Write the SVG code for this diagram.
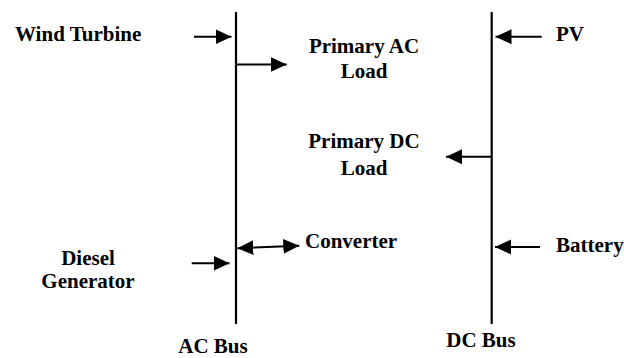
<svg xmlns="http://www.w3.org/2000/svg" width="624" height="358" viewBox="0 0 624 358">
<style>
.t{font-family:'Liberation Serif','Times New Roman',Times,serif;font-weight:700;font-size:21px;fill:#000}
.bus{stroke:#000;stroke-width:2.2;fill:none}
.arr{stroke:#000;stroke-width:2;fill:none}
</style>
<defs>
<marker id="ah" markerUnits="userSpaceOnUse" markerWidth="16" markerHeight="16" refX="16" refY="7.5" orient="auto-start-reverse" viewBox="0 0 16 15">
<path d="M0,0 L16,7.5 L0,15 Z" fill="#000"/>
</marker>
</defs>
<g class="t" font-family="Liberation Serif, Times New Roman, serif" font-weight="bold" font-size="21">
<g id="ac-bus">
<line class="bus" x1="236" y1="12" x2="236" y2="324"/>
<text x="213" y="353" text-anchor="middle">AC Bus</text>
</g>
<g id="dc-bus">
<line class="bus" x1="491.7" y1="12" x2="491.7" y2="324"/>
<text x="481" y="347" text-anchor="middle">DC Bus</text>
</g>
<g id="wind-turbine"><text x="15" y="41">Wind Turbine</text></g>
<g id="primary-ac-load"><text x="364" y="53" text-anchor="middle">Primary AC</text><text x="364" y="78" text-anchor="middle">Load</text></g>
<g id="pv"><text x="556" y="41">PV</text></g>
<g id="primary-dc-load"><text x="364" y="148" text-anchor="middle">Primary DC</text><text x="364" y="175" text-anchor="middle">Load</text></g>
<g id="converter"><text x="305" y="248">Converter</text></g>
<g id="diesel-generator"><text x="88" y="265" text-anchor="middle">Diesel</text><text x="88" y="288" text-anchor="middle">Generator</text></g>
<g id="battery"><text x="556" y="252">Battery</text></g>
</g>
<g id="connectors">
<line class="arr" x1="194" y1="36.7" x2="231.5" y2="36.7" marker-end="url(#ah)"/>
<line class="arr" x1="236" y1="64.5" x2="286.7" y2="64.5" marker-end="url(#ah)"/>
<line class="arr" x1="541.7" y1="36.7" x2="495.5" y2="36.7" marker-end="url(#ah)"/>
<line class="arr" x1="491.7" y1="156.7" x2="446" y2="156.7" marker-end="url(#ah)"/>
<line class="arr" x1="237.3" y1="248.3" x2="299.3" y2="245.7" marker-start="url(#ah)" marker-end="url(#ah)"/>
<line class="arr" x1="191.7" y1="263.3" x2="229.5" y2="263.3" marker-end="url(#ah)"/>
<line class="arr" x1="540" y1="247" x2="495" y2="247" marker-end="url(#ah)"/>
</g>
</svg>
